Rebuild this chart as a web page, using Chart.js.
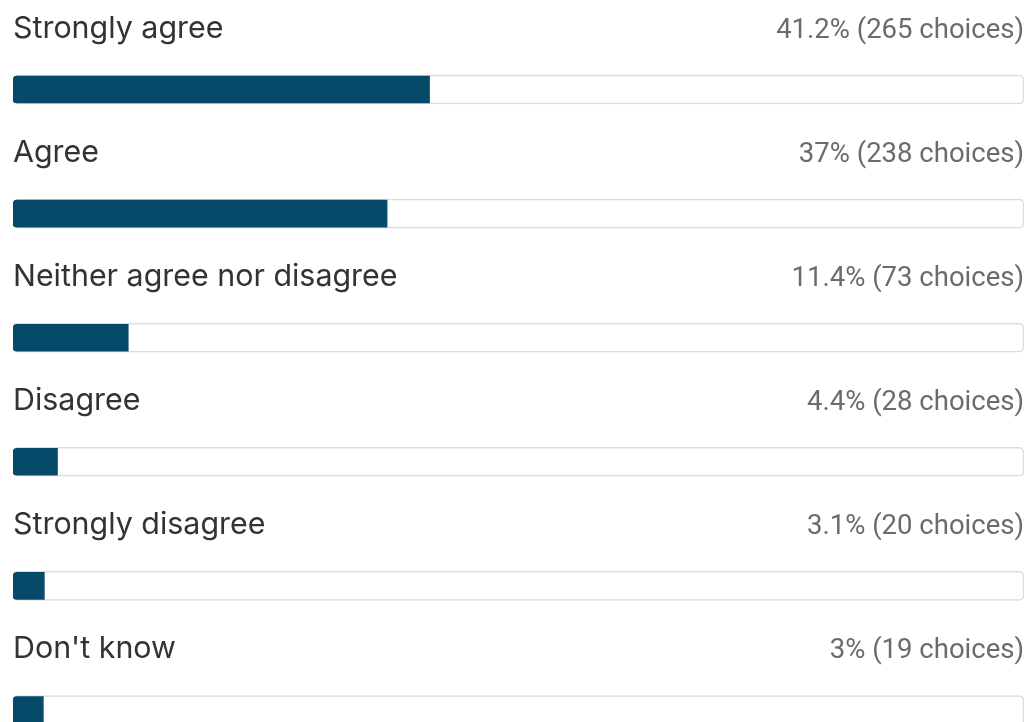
<!DOCTYPE html>
<html>
<head>
<meta charset="utf-8">
<script src="https://cdn.jsdelivr.net/npm/chart.js@4/dist/chart.umd.min.js"></script>
<style>
  html, body { margin: 0; padding: 0; background: #ffffff; overflow: hidden; }
  #wrap { position: relative; width: 1029px; height: 772px; }
</style>
</head>
<body>
<div id="wrap"><canvas id="chart"></canvas></div>
<script>
// Survey answer options, share of respondents (%) and raw counts
const categories = ["Strongly agree", "Agree", "Neither agree nor disagree", "Disagree", "Strongly disagree", "Don't know"];
const percents = [41.2, 37, 11.4, 4.4, 3.1, 3];
const counts = [265, 238, 73, 28, 20, 19];
const fullTrack = categories.map(() => 100);

const FILL = '#054b69';
const LABEL_FONT = '400 30.4px "Inter", "Roboto", sans-serif';
const VALUE_FONT = '400 27.5px "Roboto", sans-serif';

// Writes the option name above each bar and the "x% (n choices)" text at the right
const rowText = {
  id: 'rowText',
  afterDatasetsDraw(chart) {
    const ctx = chart.ctx;
    const meta = chart.getDatasetMeta(0);
    const area = chart.chartArea;
    ctx.save();
    ctx.textBaseline = 'alphabetic';
    meta.data.forEach((bar, i) => {
      const baseY = bar.y - 52;
      ctx.font = LABEL_FONT;
      ctx.fillStyle = '#333333';
      ctx.textAlign = 'left';
      ctx.fillText(categories[i], area.left, baseY);
      ctx.font = VALUE_FONT;
      ctx.fillStyle = '#6b6b6b';
      ctx.textAlign = 'right';
      ctx.fillText(percents[i] + '% (' + counts[i] + ' choices)', area.right, baseY);
    });
    ctx.restore();
  }
};

new Chart(document.getElementById('chart'), {
  type: 'bar',
  data: {
    labels: categories,
    datasets: [
      {
        label: 'Share',
        data: percents,
        backgroundColor: FILL,
        borderWidth: 0,
        borderSkipped: false,
        borderRadius: { topLeft: 4, bottomLeft: 4, topRight: 0, bottomRight: 0 },
        barThickness: 27,
        grouped: false
      },
      {
        label: 'Track',
        data: fullTrack,
        backgroundColor: '#ffffff',
        borderColor: '#dcdcdc',
        borderWidth: 1.5,
        borderSkipped: false,
        borderRadius: 5,
        barThickness: 29,
        grouped: false
      }
    ]
  },
  options: {
    indexAxis: 'y',
    responsive: true,
    maintainAspectRatio: false,
    animation: false,
    layout: { padding: { left: 13, right: 5, top: 27.5, bottom: 0 } },
    scales: {
      x: { display: false, min: 0, max: 100 },
      y: { display: false }
    },
    plugins: {
      legend: { display: false },
      tooltip: { enabled: false }
    }
  },
  plugins: [rowText]
});
</script>
</body>
</html>
